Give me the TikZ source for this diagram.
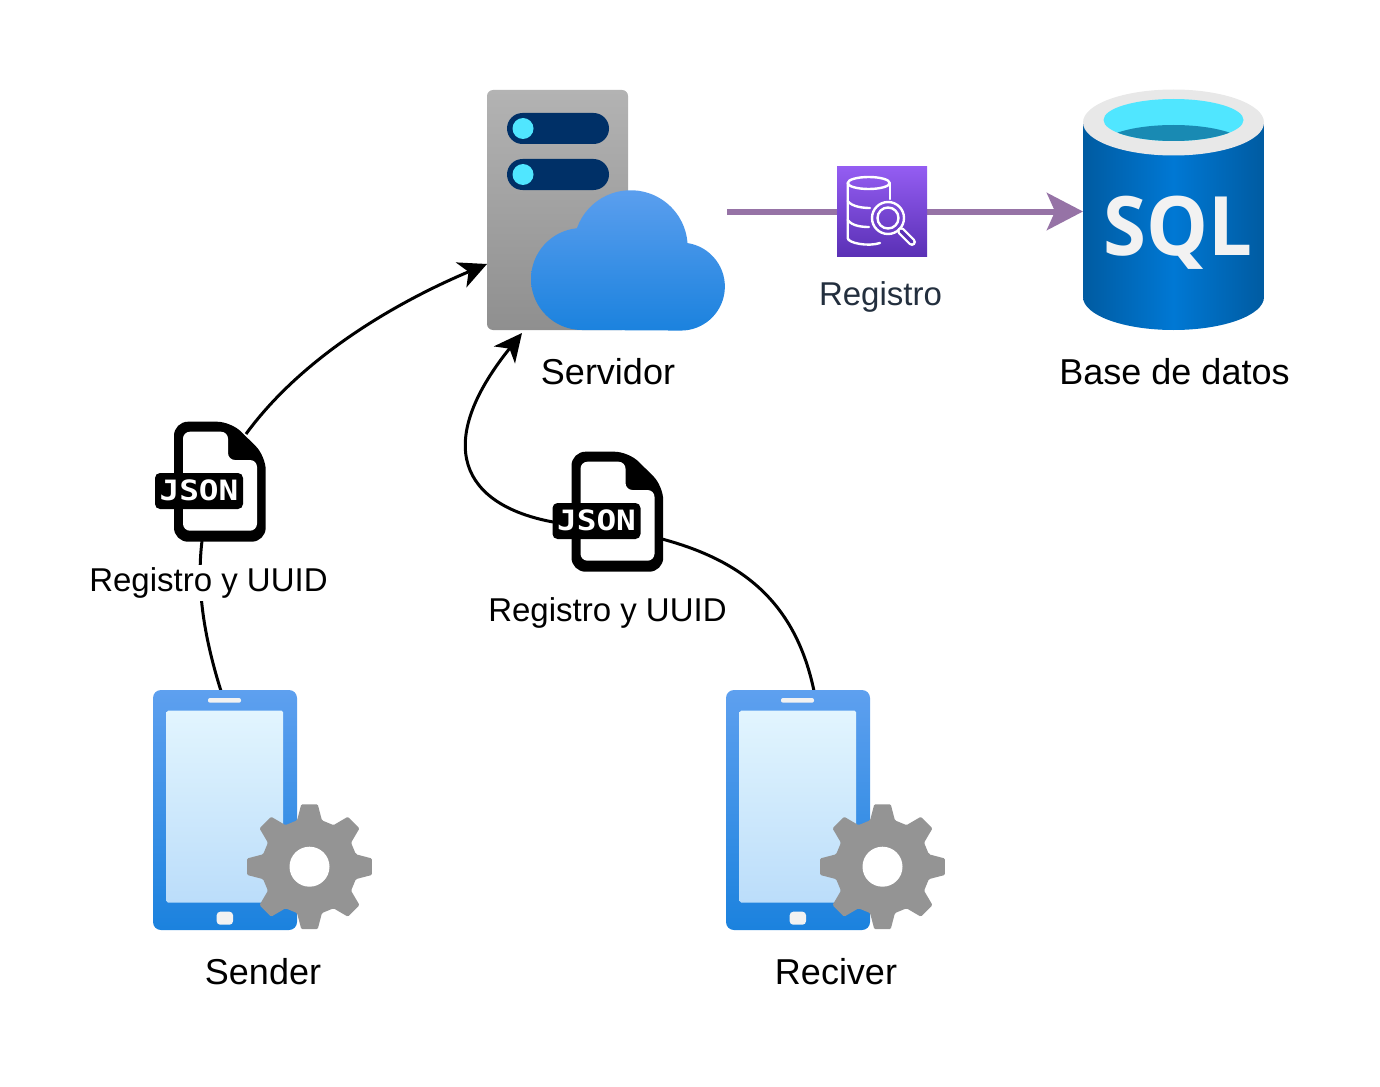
\documentclass[tikz,border=0pt]{standalone}
\usepackage{fontspec}
\setmainfont{Liberation Sans}
\newfontfamily\sqlfont{Open Sans}
\newfontfamily\jsonfont{DejaVu Sans Mono}
\usetikzlibrary{arrows.meta,calc}
\definecolor{azmid}{HTML}{0078D4}
\definecolor{azdark}{HTML}{005BA1}
\definecolor{cyanlite}{HTML}{50E6FF}
\definecolor{tealdark}{HTML}{198AB3}
\definecolor{navypill}{HTML}{003067}
\definecolor{lightgrey}{HTML}{F2F2F2}
\definecolor{rimgrey}{HTML}{E8E8E8}
\definecolor{gearcol}{HTML}{949494}
\definecolor{edgepurple}{HTML}{9673A6}
\definecolor{phonetop}{HTML}{5EA0EF}
\definecolor{phonebot}{HTML}{1B82DE}
\definecolor{screentop}{HTML}{E2F5FE}
\definecolor{screenbot}{HTML}{BBDDFA}
\definecolor{inkslate}{HTML}{232F3E}
\definecolor{regtop}{HTML}{945DF2}
\definecolor{regbot}{HTML}{5A30B5}
\definecolor{srvtop}{HTML}{B3B3B3}
\definecolor{srvbot}{HTML}{8F8F8F}
\tikzset{
  x=1pt,y=-1pt,
  lab/.style={anchor=base,inner sep=0pt,font=\fontsize{36}{40}\selectfont},
  boxedlab/.style={anchor=base,fill=white,inner sep=1.5pt,text height=25pt,text depth=8pt,font=\fontsize{33}{38}\selectfont},
  blackedge/.style={line width=3pt,black},
  blackarrow/.style={blackedge,-{Stealth[length=28pt,width=27pt,inset=8pt]}},
  purpleedge/.style={line width=6pt,edgepurple,-{Stealth[length=36pt,width=37pt,inset=8pt]}},
  phoneicon/.pic={
    \shade[top color=phonetop,bottom color=phonebot,rounded corners=8pt] (153,690) rectangle (297,930);
    \shade[top color=screentop,bottom color=screenbot,rounded corners=1.5pt] (166.7,710.7) rectangle (283,902.7);
    \fill[lightgrey,rounded corners=2pt] (208,698) rectangle (241,702.7);
    \fill[lightgrey,rounded corners=3.5pt] (216.7,911.7) rectangle (233,924.7);
    \fill[gearcol,rounded corners=1.2pt]
      ($(309.5,866.7)+(-15:48)$)
      \foreach \a in {0,45,...,315} {
        -- ($(309.5,866.7)+(\a-15:48)$) -- ($(309.5,866.7)+(\a-7.5:63)$) -- ($(309.5,866.7)+(\a+7.5:63)$) -- ($(309.5,866.7)+(\a+15:48)$)
      } -- cycle;
    \fill[white] (309.5,866.7) circle[radius=20];
  },
  jsonfile/.pic={
    \fill[black,rounded corners=14pt] (174,421.7) -- (231,421.7) -- (265.7,456) -- (265.7,541.7) -- (174,541.7) -- cycle;
    \fill[white,rounded corners=7pt] (183,431.7) -- (228,431.7) -- (228,460) -- (257,460) -- (257,530.7) -- (183,530.7) -- cycle;
    \fill[black,rounded corners=5pt] (155,473) rectangle (243,509);
    \node[text=white,xscale=1.17,inner sep=0pt,anchor=base] (-txt) at (199,500.5) {\jsonfont\bfseries\fontsize{28}{30}\selectfont JSON};
  }
}
\begin{document}
\begin{tikzpicture}
\useasboundingbox (0,0) rectangle (1380,1086);

% anchor coordinates for connectors
\coordinate (senderTop) at (221,691);
\coordinate (jsonAin) at (202,541);
\coordinate (jsonAout) at (246,434);
\coordinate (serverL) at (487,264);
\coordinate (reciverTop) at (814,691);
\coordinate (jsonBin) at (662,539);
\coordinate (jsonBout) at (553,522);
\coordinate (serverB) at (522,333);
\coordinate (arrowStart) at (727,211.5);
\coordinate (dbLeft) at (1083,211.5);

% server
\shade[top color=srvtop,bottom color=srvbot,rounded corners=6pt] (487,90) rectangle (628,330);
\fill[navypill,rounded corners=15.5pt] (507,113) rectangle (609,144);
\fill[navypill,rounded corners=15.5pt] (507,159) rectangle (609,190);
\fill[cyanlite] (523,128.5) circle[radius=10.5];
\fill[cyanlite] (523,174.5) circle[radius=10.5];
\shade[top color=phonetop,bottom color=phonebot]
  (582,330) arc[start angle=90,end angle=264,radius=51]
  -- (577,228) arc[start angle=199.7,end angle=356,radius=57]
  -- (687,243) arc[start angle=278,end angle=450,radius=44] -- cycle;

% connectors
\draw[blackedge] (senderTop) .. controls (205,640) and (196,590) .. (jsonAin);
\draw[blackarrow] (jsonAout) .. controls (300,360) and (390,305) .. (serverL);
\draw[blackedge] (reciverTop) .. controls (795,600) and (740,560) .. (jsonBin);
\draw[blackarrow] (jsonBout) .. controls (462,505) and (432,445) .. (serverB);
\draw[purpleedge] (arrowStart) -- (dbLeft);

% registro icon
\shade[top color=regtop,bottom color=regbot] (837,166.5) rectangle (927,256.5);
\begin{scope}[white,line width=2.4pt,line cap=round,line join=round]
  \draw (868.7,183) ellipse[x radius=21,y radius=6];
  \draw (847.7,183) -- (847.7,238) .. controls (847.7,243) and (868,247) .. (880,243);
  \draw (889.7,183) -- (889.7,199);
  \draw (847.7,201) .. controls (852,207) and (864,208) .. (870,208);
  \draw (847.7,220) .. controls (852,226) and (862,227) .. (869,227);
  \draw (888,218) circle[radius=16];
  \draw (888,218) circle[radius=10.5];
  \draw[line width=8pt] (901,231) -- (912,242);
  \draw[line width=3.4pt,draw=regbot] (901,231) -- (912,242);
\end{scope}

% database
\shade[left color=azdark,right color=azdark,middle color=azmid]
  (1083,122) -- (1083,297) arc[start angle=180,end angle=0,x radius=90.5,y radius=33] -- (1264,122) -- cycle;
\fill[rimgrey] (1173.5,122.5) ellipse[x radius=90.5,y radius=33];
\fill[cyanlite] (1173.5,120) ellipse[x radius=70,y radius=21];
\begin{scope}
  \clip (1173.5,120) ellipse[x radius=70,y radius=21];
  \fill[tealdark] (1173.5,147) ellipse[x radius=74,y radius=22];
\end{scope}
\node[anchor=base,text=lightgrey,inner sep=0pt,xscale=.95] (sqltext) at (1178,255) {\sqlfont\bfseries\fontsize{82}{90}\selectfont SQL};

% phones and json icons
\pic (phoneA) at (0,0) {phoneicon};
\pic (phoneB) at (573,0) {phoneicon};
\pic (jsonA) at (0,0) {jsonfile};
\pic (jsonB) at (397.5,30) {jsonfile};

% labels
\node[lab] (lServ) at (608,384) {Servidor};
\node[lab] (lDb) at (1174.5,384) {Base de datos};
\node[lab,text=inkslate,font=\fontsize{33}{38}\selectfont] (lReg) at (880.5,305) {Registro};
\node[boxedlab] (lJa) at (208.5,591) {Registro y UUID};
\node[boxedlab] (lJb) at (607.5,621) {Registro y UUID};
\node[lab] (lSend) at (263,984) {Sender};
\node[lab] (lRec) at (836,984) {Reciver};
\end{tikzpicture}
\end{document}
